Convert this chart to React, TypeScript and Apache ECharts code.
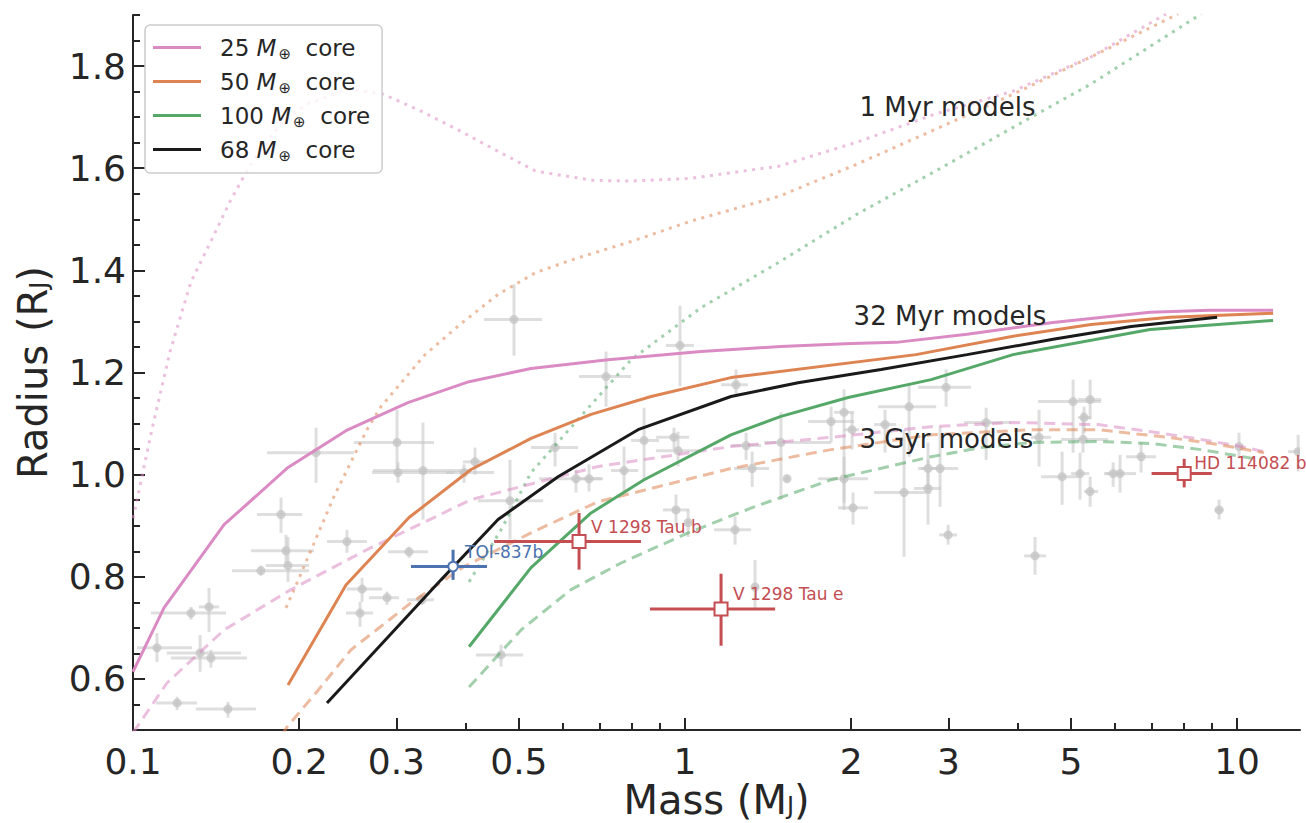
import React, { useEffect, useRef } from "react";
import * as echarts from "echarts";

// ---------- axis ticks ----------
const xTickLabels = [0.1, 0.2, 0.3, 0.5, 1, 2, 3, 5, 10];
const xMinorTicks = [0.4, 0.6, 0.7, 0.8, 0.9, 4, 6, 7, 8, 9];
const yTickLabels = [0.6, 0.8, 1.0, 1.2, 1.4, 1.6, 1.8];
const yMinorTicks = [0.5, 0.55, 0.65, 0.7, 0.75, 0.85, 0.9, 0.95, 1.05, 1.1, 1.15, 1.25, 1.3, 1.35, 1.45, 1.5, 1.55, 1.65, 1.7, 1.75, 1.85, 1.9];
const xMin = 0.1;
const xMax = 13;
const yMin = 0.5;
const yMax = 1.9;

// ---------- legend ----------
const coreMasses = ["25", "50", "100", "68"];

// ---------- model curves: [mass (MJ), radius (RJ)] ----------
// 32 Myr
const core25_32Myr = [[0.1, 0.614], [0.1138, 0.739], [0.1462, 0.902], [0.1909, 1.014], [0.2431, 1.086], [0.3148, 1.141], [0.4062, 1.182], [0.526, 1.208], [0.7253, 1.225], [1.069, 1.241], [1.49, 1.251], [2.0, 1.257], [2.411, 1.259], [3.243, 1.275], [4.642, 1.298], [6.958, 1.318], [8.898, 1.322], [11.62, 1.322]];
const core50_32Myr = [[0.1909, 0.588], [0.2431, 0.784], [0.3162, 0.916], [0.4096, 1.01], [0.526, 1.071], [0.6757, 1.118], [0.868, 1.153], [1.211, 1.19], [2.62, 1.235], [3.928, 1.271], [5.439, 1.294], [7.561, 1.308], [11.62, 1.316]];
const core100_32Myr = [[0.4062, 0.663], [0.526, 0.818], [0.6757, 0.925], [0.8429, 0.99], [1.211, 1.078], [1.492, 1.114], [1.974, 1.151], [2.791, 1.186], [3.928, 1.235], [6.958, 1.284], [11.62, 1.302]];
const core68_32Myr = [[0.2246, 0.553], [0.3614, 0.794], [0.4584, 0.912], [0.5887, 0.996], [0.822, 1.088], [1.211, 1.153], [1.602, 1.18], [2.265, 1.206], [3.243, 1.235], [4.642, 1.265], [6.427, 1.29], [9.2, 1.308]];
// 1 Myr
const core25_1Myr = [[0.1, 0.915], [0.1008, 0.931], [0.1082, 1.088], [0.1167, 1.241], [0.1274, 1.378], [0.1384, 1.457], [0.1499, 1.535], [0.1622, 1.602], [0.1846, 1.686], [0.2058, 1.725], [0.2461, 1.755], [0.2837, 1.745], [0.3323, 1.712], [0.3912, 1.673], [0.4584, 1.633], [0.5371, 1.594], [0.6842, 1.576], [0.8015, 1.575], [1.021, 1.58], [1.48, 1.604], [2.049, 1.651], [2.838, 1.706], [3.928, 1.751], [5.439, 1.818], [7.436, 1.902]];
const core50_1Myr = [[0.1893, 0.739], [0.1982, 0.788], [0.2312, 0.957], [0.2653, 1.088], [0.2813, 1.133], [0.3381, 1.235], [0.3912, 1.294], [0.4584, 1.353], [0.5371, 1.396], [0.6293, 1.422], [0.8015, 1.457], [1.021, 1.496], [1.48, 1.545], [2.049, 1.608], [2.838, 1.676], [3.928, 1.745], [5.439, 1.818], [7.818, 1.902]];
const core100_1Myr = [[0.4062, 0.79], [0.4642, 0.892], [0.526, 1.004], [0.6399, 1.108], [0.7984, 1.225], [1.069, 1.327], [1.48, 1.416], [2.049, 1.51], [2.838, 1.594], [3.928, 1.68], [5.439, 1.765], [8.606, 1.902]];
// 3 Gyr
const core25_3Gyr = [[0.1, 0.495], [0.1017, 0.506], [0.1152, 0.592], [0.1462, 0.696], [0.1933, 0.775], [0.2653, 0.853], [0.4096, 0.951], [0.6958, 1.016], [1.211, 1.055], [1.839, 1.073], [2.791, 1.094], [3.945, 1.102], [5.601, 1.098], [6.987, 1.084], [8.606, 1.069], [10.17, 1.055], [11.19, 1.045]];
const core50_3Gyr = [[0.186, 0.49], [0.1901, 0.506], [0.2146, 0.573], [0.2482, 0.657], [0.3188, 0.749], [0.3978, 0.82], [0.526, 0.886], [0.6958, 0.947], [1.211, 1.012], [1.839, 1.049], [2.791, 1.078], [4.235, 1.088], [5.601, 1.088], [7.499, 1.073], [9.239, 1.059], [11.19, 1.043]];
const core100_3Gyr = [[0.4062, 0.584], [0.5047, 0.696], [0.6215, 0.775], [0.7659, 0.827], [1.013, 0.886], [1.334, 0.937], [1.839, 0.99], [2.791, 1.035], [3.438, 1.053], [4.235, 1.063], [5.601, 1.065], [6.987, 1.061], [8.606, 1.049], [11.05, 1.029]];

// ---------- known planets: [mass, radius, massLo, massHi, radiusLo, radiusHi] ----------
const knownPlanets = [
  [0.1105, 0.661, 0.1017, 0.1279, 0.633, 0.69],
  [0.1323, 0.651, 0.1152, 0.1569, 0.614, 0.686],
  [0.1384, 0.641, 0.1171, 0.1609, 0.622, 0.657],
  [0.1202, 0.553, 0.1101, 0.1306, 0.539, 0.565],
  [0.1486, 0.541, 0.13, 0.167, 0.524, 0.555],
  [0.1274, 0.729, 0.1078, 0.1474, 0.716, 0.741],
  [0.1373, 0.741, 0.1317, 0.1431, 0.692, 0.778],
  [0.1705, 0.812, 0.1511, 0.2084, 0.802, 0.822],
  [0.1893, 0.851, 0.1636, 0.2128, 0.827, 0.882],
  [0.1909, 0.822, 0.1741, 0.2084, 0.79, 0.878],
  [0.1854, 0.922, 0.1677, 0.2024, 0.886, 0.955],
  [0.2146, 1.043, 0.1749, 0.2514, 0.984, 1.092],
  [0.3008, 1.063, 0.2514, 0.3509, 1.0, 1.127],
  [0.302, 1.004, 0.271, 0.3816, 0.984, 1.024],
  [0.3352, 1.008, 0.2722, 0.4096, 0.912, 1.102],
  [0.2441, 0.869, 0.2246, 0.2653, 0.847, 0.892],
  [0.3162, 0.849, 0.2897, 0.3422, 0.837, 0.859],
  [0.26, 0.776, 0.2441, 0.2826, 0.751, 0.798],
  [0.2885, 0.759, 0.2676, 0.3033, 0.745, 0.771],
  [0.2578, 0.729, 0.2431, 0.2722, 0.702, 0.751],
  [0.3338, 0.755, 0.3135, 0.3509, 0.745, 0.765],
  [0.4164, 1.025, 0.3962, 0.436, 1.0, 1.053],
  [0.3978, 1.004, 0.369, 0.4508, 0.984, 1.02],
  [0.4819, 0.949, 0.4217, 0.5531, 0.873, 1.029],
  [0.5815, 1.053, 0.526, 0.6399, 1.016, 1.082],
  [0.6345, 0.992, 0.5439, 0.7045, 0.965, 1.01],
  [0.67, 0.992, 0.6215, 0.7104, 0.967, 1.02],
  [0.7754, 1.008, 0.7344, 0.822, 0.965, 1.055],
  [0.8429, 1.067, 0.7984, 0.8973, 0.99, 1.131],
  [0.955, 1.073, 0.886, 1.017, 1.049, 1.092],
  [0.9712, 1.047, 0.886, 1.069, 1.016, 1.084],
  [0.4899, 1.304, 0.4324, 0.5507, 1.233, 1.373],
  [0.9793, 1.253, 0.9238, 1.038, 1.173, 1.331],
  [0.7192, 1.192, 0.6427, 0.7984, 1.133, 1.241],
  [0.963, 0.931, 0.9123, 1.017, 0.898, 0.961],
  [1.013, 0.906, 1.0, 1.026, 0.878, 0.931],
  [0.4642, 0.647, 0.418, 0.5087, 0.624, 0.667],
  [1.237, 1.176, 1.162, 1.3, 1.153, 1.206],
  [1.232, 0.892, 1.129, 1.317, 0.863, 0.918],
  [1.339, 0.78, 1.32, 1.36, 0.735, 0.833],
  [1.29, 1.057, 1.211, 1.373, 1.029, 1.082],
  [1.323, 1.012, 1.227, 1.42, 0.976, 1.045],
  [1.492, 1.063, 1.39, 1.839, 0.951, 1.122],
  [1.53, 0.992, 1.51, 1.55, 0.985, 1.0],
  [1.839, 1.104, 1.671, 2.024, 1.063, 1.133],
  [1.941, 1.122, 1.862, 2.024, 0.945, 1.167],
  [2.007, 1.088, 1.941, 2.066, 1.049, 1.122],
  [2.303, 1.098, 2.2, 2.411, 1.043, 1.127],
  [1.941, 0.992, 1.742, 2.145, 0.931, 1.035],
  [2.015, 0.935, 1.893, 2.145, 0.902, 0.965],
  [2.546, 1.133, 2.237, 2.85, 1.035, 1.176],
  [2.493, 0.965, 2.2, 2.791, 0.839, 1.088],
  [2.755, 1.012, 2.676, 2.909, 0.971, 1.063],
  [2.897, 1.012, 2.643, 3.124, 0.937, 1.094],
  [2.755, 0.973, 2.6, 2.909, 0.902, 1.029],
  [2.971, 1.171, 2.643, 3.297, 1.133, 1.206],
  [2.996, 0.882, 2.885, 3.11, 0.863, 0.902],
  [3.511, 1.102, 3.202, 3.895, 1.029, 1.131],
  [4.378, 1.073, 4.235, 4.603, 1.016, 1.127],
  [4.305, 0.841, 4.113, 4.509, 0.804, 0.878],
  [5.046, 1.143, 4.36, 5.671, 1.043, 1.186],
  [5.417, 1.147, 5.152, 5.671, 1.108, 1.186],
  [5.283, 1.112, 5.152, 5.439, 1.082, 1.133],
  [5.26, 1.069, 4.8, 5.84, 1.043, 1.122],
  [4.819, 0.996, 4.415, 5.152, 0.941, 1.045],
  [5.194, 1.002, 5.004, 5.395, 0.951, 1.043],
  [5.417, 0.967, 5.283, 5.601, 0.937, 0.996],
  [5.963, 1.002, 5.741, 6.242, 0.976, 1.024],
  [6.138, 1.002, 5.78, 6.561, 0.965, 1.039],
  [6.701, 1.035, 6.294, 7.134, 1.004, 1.063],
  [9.277, 0.931, 9.1, 9.45, 0.912, 0.951],
  [10.08, 1.055, 9.9, 10.25, 1.033, 1.082],
  [12.9, 1.045, 12.37, 13.39, 1.006, 1.078],
];

// ---------- highlighted planets ----------
const highlightNames = ["TOI-837b", "V 1298 Tau b", "V 1298 Tau e", "HD 114082 b"];
const highlightValues = [
  [0.38, 0.82, 0.3188, 0.4378, 0.794, 0.853],
  [0.6427, 0.869, 0.451, 0.832, 0.814, 0.925],
  [1.162, 0.737, 0.864, 1.456, 0.665, 0.806],
  [8.02, 1.002, 7.0, 9.0, 0.975, 1.031],
];

// ---------- annotations: [mass, radius] of left edge ----------
const annotationTexts = ["1 Myr models", "32 Myr models", "3 Gyr models"];
const annotationPositions = [[2.07, 1.72], [2.02, 1.31], [2.07, 1.069]];

const PINK = "#da8bc3";
const ORANGE = "#dd8452";
const GREEN = "#55a868";
const BLACK = "#1a1a1a";
const BLUE = "#4c72b0";
const RED = "#c44e52";
const INK = "#262626";
const FONT = "DejaVu Sans";

function fmtX(v: number) {
  return String(parseFloat(Math.pow(10, v).toPrecision(2)));
}

export default function App() {
  const ref = useRef<HTMLDivElement | null>(null);

  useEffect(() => {
    document.body.style.margin = "0";
    if (!ref.current) return;
    const chart = echarts.init(ref.current, undefined, { renderer: "svg" });

    const solid = (name: string, data: number[][], color: string) => ({
      name,
      type: "line",
      data,
      xAxisIndex: 0,
      yAxisIndex: 0,
      symbol: "none",
      z: 4,
      color,
      lineStyle: { color, width: 3 },
    });
    const faint = (name: string, data: number[][], color: string, dash: number[]) => ({
      name,
      type: "line",
      data,
      xAxisIndex: 0,
      yAxisIndex: 0,
      symbol: "none",
      z: 3,
      color,
      lineStyle: { color, width: 3, type: dash, opacity: 0.55, cap: "butt" },
    });
    const DOT = [3, 5.5];
    const DASH = [11, 6.5];

    const titleRich = {
      a: { fontSize: 40, color: INK, fontFamily: FONT, lineHeight: 40 },
      b: { fontSize: 24, color: INK, fontFamily: FONT, lineHeight: 24, padding: [12, 0, 0, 0] },
    };

    const option: any = {
      animation: false,
      backgroundColor: "#ffffff",
      textStyle: { fontFamily: FONT },
      grid: { left: 133, right: 6, top: 15, bottom: 93, containLabel: false, outerBoundsMode: "none" },
      legend: {
        show: true,
        orient: "vertical",
        left: 145,
        top: 25,
        itemWidth: 48,
        itemHeight: 3,
        itemGap: 9,
        icon: "rect",
        selectedMode: false,
        padding: [11, 12, 10, 8],
        backgroundColor: "rgba(255,255,255,0.8)",
        borderColor: "#cccccc",
        borderWidth: 1.5,
        borderRadius: 5,
        data: coreMasses,
        formatter: (name: string) => `{g|}{n|${name} }{i|M}{s|⊕}{n|  core}`,
        textStyle: {
          color: INK,
          fontFamily: FONT,
          fontSize: 23,
          rich: {
            g: { width: 14 },
            n: { fontSize: 23, lineHeight: 26, color: INK, fontFamily: FONT },
            i: { fontSize: 23, lineHeight: 26, fontStyle: "italic", color: INK, fontFamily: FONT },
            s: { fontSize: 15, padding: [12, 0, 0, 2], color: INK, fontFamily: FONT },
          },
        },
      },
      xAxis: [
        { type: "log", logBase: 10, min: xMin, max: xMax, show: false, gridIndex: 0 },
        {
          type: "value",
          gridIndex: 0,
          min: Math.log10(xMin),
          max: Math.log10(xMax),
          position: "bottom",
          axisLine: { show: true, onZero: false, lineStyle: { color: INK, width: 2 } },
          axisTick: { show: true, inside: true, length: 12, lineStyle: { color: INK, width: 2 }, customValues: xTickLabels.map(Math.log10) },
          axisLabel: { show: true, customValues: xTickLabels.map(Math.log10), formatter: fmtX, fontSize: 36, color: INK, margin: 13, fontFamily: FONT },
          splitLine: { show: false },
          name: "{a|Mass (M}{b|J}{a|)}",
          nameLocation: "middle",
          nameGap: 50,
          nameMoveOverlap: false,
          nameTextStyle: { color: INK, fontFamily: FONT, fontSize: 40, rich: titleRich },
        },
        {
          type: "value",
          gridIndex: 0,
          min: Math.log10(xMin),
          max: Math.log10(xMax),
          position: "bottom",
          axisLine: { show: false, onZero: false },
          axisTick: { show: true, inside: true, length: 7, lineStyle: { color: INK, width: 2 }, customValues: xMinorTicks.map(Math.log10) },
          axisLabel: { show: false },
          splitLine: { show: false },
        },
      ],
      yAxis: [
        {
          type: "value",
          gridIndex: 0,
          min: yMin,
          max: yMax,
          position: "left",
          axisLine: { show: true, onZero: false, lineStyle: { color: INK, width: 2 } },
          axisTick: { show: true, inside: true, length: 12, lineStyle: { color: INK, width: 2 }, customValues: yTickLabels },
          axisLabel: { show: true, customValues: yTickLabels, formatter: (v: number) => v.toFixed(1), fontSize: 36, color: INK, margin: 7, fontFamily: FONT },
          splitLine: { show: false },
          name: "{a|Radius (R}{b|J}{a|)}",
          nameLocation: "middle",
          nameGap: 80,
          nameRotate: 90,
          nameTextStyle: { color: INK, fontFamily: FONT, fontSize: 40, rich: titleRich },
        },
        {
          type: "value",
          gridIndex: 0,
          min: yMin,
          max: yMax,
          position: "left",
          axisLine: { show: false, onZero: false },
          axisTick: { show: true, inside: true, length: 7, lineStyle: { color: INK, width: 2 }, customValues: yMinorTicks },
          axisLabel: { show: false },
          splitLine: { show: false },
        },
      ],
      series: [
        {
          name: "known planets",
          type: "custom",
          xAxisIndex: 0,
          yAxisIndex: 0,
          z: 1,
          clip: true,
          encode: { x: 0, y: 1 },
          data: knownPlanets,
          renderItem: (params: any, api: any) => {
            const m = api.value(0), r = api.value(1);
            const c = api.coord([m, r]);
            const xl = api.coord([api.value(2), r]);
            const xh = api.coord([api.value(3), r]);
            const yl = api.coord([m, api.value(4)]);
            const yh = api.coord([m, api.value(5)]);
            const bar = { stroke: "rgba(200,200,200,0.6)", lineWidth: 3 };
            return {
              type: "group",
              children: [
                { type: "line", shape: { x1: xl[0], y1: xl[1], x2: xh[0], y2: xh[1] }, style: bar },
                { type: "line", shape: { x1: yl[0], y1: yl[1], x2: yh[0], y2: yh[1] }, style: bar },
                { type: "circle", shape: { cx: c[0], cy: c[1], r: 4.5 }, style: { fill: "rgba(195,195,195,0.75)" } },
              ],
            };
          },
        },
        faint("25 1Myr", core25_1Myr, PINK, DOT),
        faint("50 1Myr", core50_1Myr, ORANGE, DOT),
        faint("100 1Myr", core100_1Myr, GREEN, DOT),
        faint("25 3Gyr", core25_3Gyr, PINK, DASH),
        faint("50 3Gyr", core50_3Gyr, ORANGE, DASH),
        faint("100 3Gyr", core100_3Gyr, GREEN, DASH),
        solid("25", core25_32Myr, PINK),
        solid("50", core50_32Myr, ORANGE),
        solid("100", core100_32Myr, GREEN),
        solid("68", core68_32Myr, BLACK),
        {
          name: "annotations",
          type: "custom",
          xAxisIndex: 0,
          yAxisIndex: 0,
          z: 5,
          encode: { x: 0, y: 1 },
          data: annotationPositions,
          renderItem: (params: any, api: any) => {
            const p = api.coord([api.value(0), api.value(1)]);
            return {
              type: "text",
              x: p[0],
              y: p[1],
              style: {
                text: annotationTexts[params.dataIndex],
                fill: INK,
                fontSize: 26,
                fontFamily: FONT,
                align: "left",
                verticalAlign: "middle",
              },
            };
          },
        },
        {
          name: "highlighted",
          type: "custom",
          xAxisIndex: 0,
          yAxisIndex: 0,
          z: 6,
          encode: { x: 0, y: 1 },
          data: highlightValues,
          renderItem: (params: any, api: any) => {
            const i = params.dataIndex;
            const color = i === 0 ? BLUE : RED;
            const m = api.value(0), r = api.value(1);
            const c = api.coord([m, r]);
            const xl = api.coord([api.value(2), r]);
            const xh = api.coord([api.value(3), r]);
            const yl = api.coord([m, api.value(4)]);
            const yh = api.coord([m, api.value(5)]);
            const bar = { stroke: color, lineWidth: 3 };
            const marker =
              i === 0
                ? { type: "circle", shape: { cx: c[0], cy: c[1], r: 4.8 }, style: { fill: "#ffffff", stroke: color, lineWidth: 2 } }
                : { type: "rect", shape: { x: c[0] - 6.5, y: c[1] - 6.5, width: 13, height: 13 }, style: { fill: "#ffffff", stroke: color, lineWidth: 2 } };
            const dy = i === 3 ? -11 : -15;
            const dx = i === 3 ? 10 : 12;
            return {
              type: "group",
              children: [
                { type: "line", shape: { x1: xl[0], y1: xl[1], x2: xh[0], y2: xh[1] }, style: bar },
                { type: "line", shape: { x1: yl[0], y1: yl[1], x2: yh[0], y2: yh[1] }, style: bar },
                marker,
                {
                  type: "text",
                  x: c[0] + dx,
                  y: c[1] + dy,
                  style: { text: highlightNames[i], fill: color, fontSize: 17, fontFamily: FONT, align: "left", verticalAlign: "middle" },
                },
              ],
            };
          },
        },
      ],
    };

    chart.setOption(option);
    return () => chart.dispose();
  }, []);

  return <div ref={ref} style={{ position: "fixed", left: 0, top: 0, width: 1306, height: 823 }} />;
}
